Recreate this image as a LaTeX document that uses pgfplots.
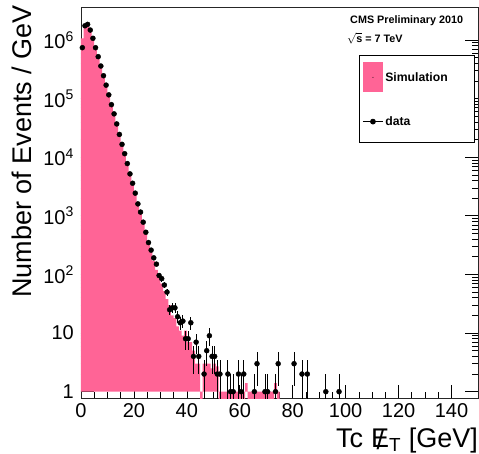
\documentclass[border=0pt]{standalone}
\usepackage{fontspec}
\setmainfont{Liberation Sans}
\usepackage{pgfplots}
\pgfplotsset{compat=1.18}
\usepackage{pgfplotstable}
\definecolor{simpink}{RGB}{255,100,150}

% simulation: left bin edge, content (1e-3 = empty bin)
\pgfplotstableread{
x y
0 1.07e6
1 1.72e6
2 1.85e6
3 1.55e6
4 1.13e6
5 7.8e5
6 5.4e5
7 3.7e5
8 2.55e5
9 1.75e5
10 1.2e5
11 8.2e4
12 5.7e4
13 3.9e4
14 2.6e4
15 1.75e4
16 1.2e4
17 8.1e3
18 5.4e3
19 3.7e3
20 2.5e3
21 1.65e3
22 1150
23 780
24 520
25 350
26 240
27 170
28 120
29 95
30 70
31 52
32 38
33 30
34 20
35 18
36 13
37 11
38 9
39 11
40 7
41 7
42 5
43 3
44 3
45 1e-3
46 3
47 3
48 3
49 2.5
50 3
51 2.7
52 1e-3
62 1.4
63 1e-3
73 1.4
74 1e-3
75 1e-3
}\simtab

% data: bin centre, count, errors
\pgfplotstableread{
x y ep em
0.5 7.4e5 0 0
1.5 1.75e6 0 0
2.5 1.85e6 0 0
3.5 1.48e6 0 0
4.5 1.07e6 0 0
5.5 7.4e5 0 0
6.5 5.2e5 0 0
7.5 3.6e5 0 0
8.5 2.46e5 0 0
9.5 1.7e5 0 0
10.5 1.16e5 0 0
11.5 7.9e4 0 0
12.5 5.5e4 0 0
13.5 3.7e4 0 0
14.5 2.45e4 0 0
15.5 1.66e4 0 0
16.5 1.15e4 0 0
17.5 7800 0 0
18.5 5200 0 0
19.5 3600 0 0
20.5 2440 0 0
21.5 1600 0 0
22.5 1160 0 0
23.5 780 0 0
24.5 525 0 0
25.5 350 0 0
26.5 260 0 0
27.5 192 0 0
28.5 150 12.2 12.2
29.5 96 9.8 9.8
30.5 85 9.2 9.2
31.5 66 8.1 8.1
32.5 50 7.1 7.1
33.5 25 5 5
34.5 27 5.2 5.2
35.5 27 5.2 5.2
36.5 19 4.36 4.36
37.5 15 3.87 3.87
38.5 16 4 4
39.5 8 2.83 2.83
40.5 8 2.83 2.83
41.5 15 3.87 3.87
42.5 4 2 2
43.5 7 2.65 2.65
44.5 4 2 2
46.5 2 1.41 1.41
47.5 5 2.24 2.24
48.5 9 3 3
49.5 4 2 2
50.5 4 2 2
51.5 2 1.41 1.41
52.5 2 1.41 1.41
55.5 2 1.41 1.41
56.5 1 1 0.999
57.5 1 1 0.999
59.5 2 1.41 1.41
60.5 1 1 0.999
61.5 2 1.41 1.41
65.5 1 1 0.999
66.5 3 1.73 1.73
69.5 1 1 0.999
70.5 1 1 0.999
73.5 1 1 0.999
74.5 3 1.73 1.73
80.5 3 1.73 1.73
83.5 2 1.41 1.41
85.5 2 1.41 1.41
92.5 1 1 0.999
97.5 1 1 0.999
}\datatab

\begin{document}
\begin{tikzpicture}
\useasboundingbox (0,0) rectangle (479pt,453pt);
\begin{axis}[
    at={(81pt,55pt)}, anchor=south west,
    scale only axis, width=397pt, height=391pt,
    ymode=log,
    xmin=0, xmax=150,
    ymin=0.78, ymax=3.66e6,
    xtick={0,20,...,140}, minor x tick num=3,
    ytick={1,10,100,1000,10000,100000,1000000},
    yticklabels={1,10,10\textsuperscript{2},10\textsuperscript{3},10\textsuperscript{4},10\textsuperscript{5},10\textsuperscript{6}},
    xtick pos=left, ytick pos=both,
    tick align=inside,
    major tick length=13pt, minor tick length=6.5pt,
    tick style={black, line width=0.7pt},
    axis line style={black!85, line width=0.8pt},
    /pgf/number format/assume math mode=true,
    ticklabel style={font=\fontsize{20}{24}\selectfont},
    xticklabel style={inner sep=0pt, yshift=-5pt},
    yticklabel style={inner sep=0pt, xshift=-7pt},
    xlabel={Tc\hspace{0.3em}\makebox[0pt][l]{\hspace{0.2em}\raisebox{-0.1em}{/}}E\textsubscript{T} [GeV]},
    ylabel={Number of Events / GeV},
    xlabel style={font=\fontsize{27}{30}\selectfont, at={([yshift=-49pt]axis description cs:1,0)}, anchor=base east, inner sep=0pt},
    ylabel style={font=\fontsize{27}{32}\selectfont, at={([xshift=-49pt,yshift=2pt]axis description cs:0,1)}, anchor=base east, rotate=0, inner sep=0pt},
    legend style={at={(axis description cs:0.9917,0.877)}, anchor=north east,
        draw=black, line width=0.7pt, fill=white,
        font=\bfseries\fontsize{12.2}{14}\selectfont,
        inner xsep=3pt, inner ysep=7pt, row sep=22pt},
    legend cell align=left,
    clip=true,
]
\addplot[fill=simpink, draw=none, const plot,
    legend image code/.code={
        \fill[simpink] (0pt,-15pt) rectangle (20pt,15pt);
        \fill[black] (10pt,0pt) circle (0.5pt);}]
    table[x=x, y=y] {\simtab} \closedcycle;
\addlegendentry{\makebox[84pt][l]{Simulation}}
\addplot[only marks, mark=*, mark size=2.5pt, black,
    legend image code/.code={
        \path[draw=none, fill=none] (0pt,-14pt) -- (20pt,-14pt);
        \draw[black, line width=0.8pt] (0pt,0pt) -- (20pt,0pt);
        \fill[black] (10pt,0pt) circle (2.5pt);},
    error bars/.cd, y dir=both, y explicit, error mark=none,
    error bar style={black, line width=0.8pt}]
    table[x=x, y=y, y error plus=ep, y error minus=em] {\datatab};
\addlegendentry{data}
\node[anchor=west, font=\bfseries\fontsize{10.8}{12}\selectfont, inner sep=0pt]
    at (axis description cs:0.6776,0.965) {CMS Preliminary 2010};
\node[anchor=west, font=\bfseries\fontsize{10.8}{12}\selectfont, inner sep=0pt]
    at (axis description cs:0.670,0.919) {$\sqrt{\mbox{\bfseries s}}$ = 7 TeV};
\end{axis}
\end{tikzpicture}
\end{document}
